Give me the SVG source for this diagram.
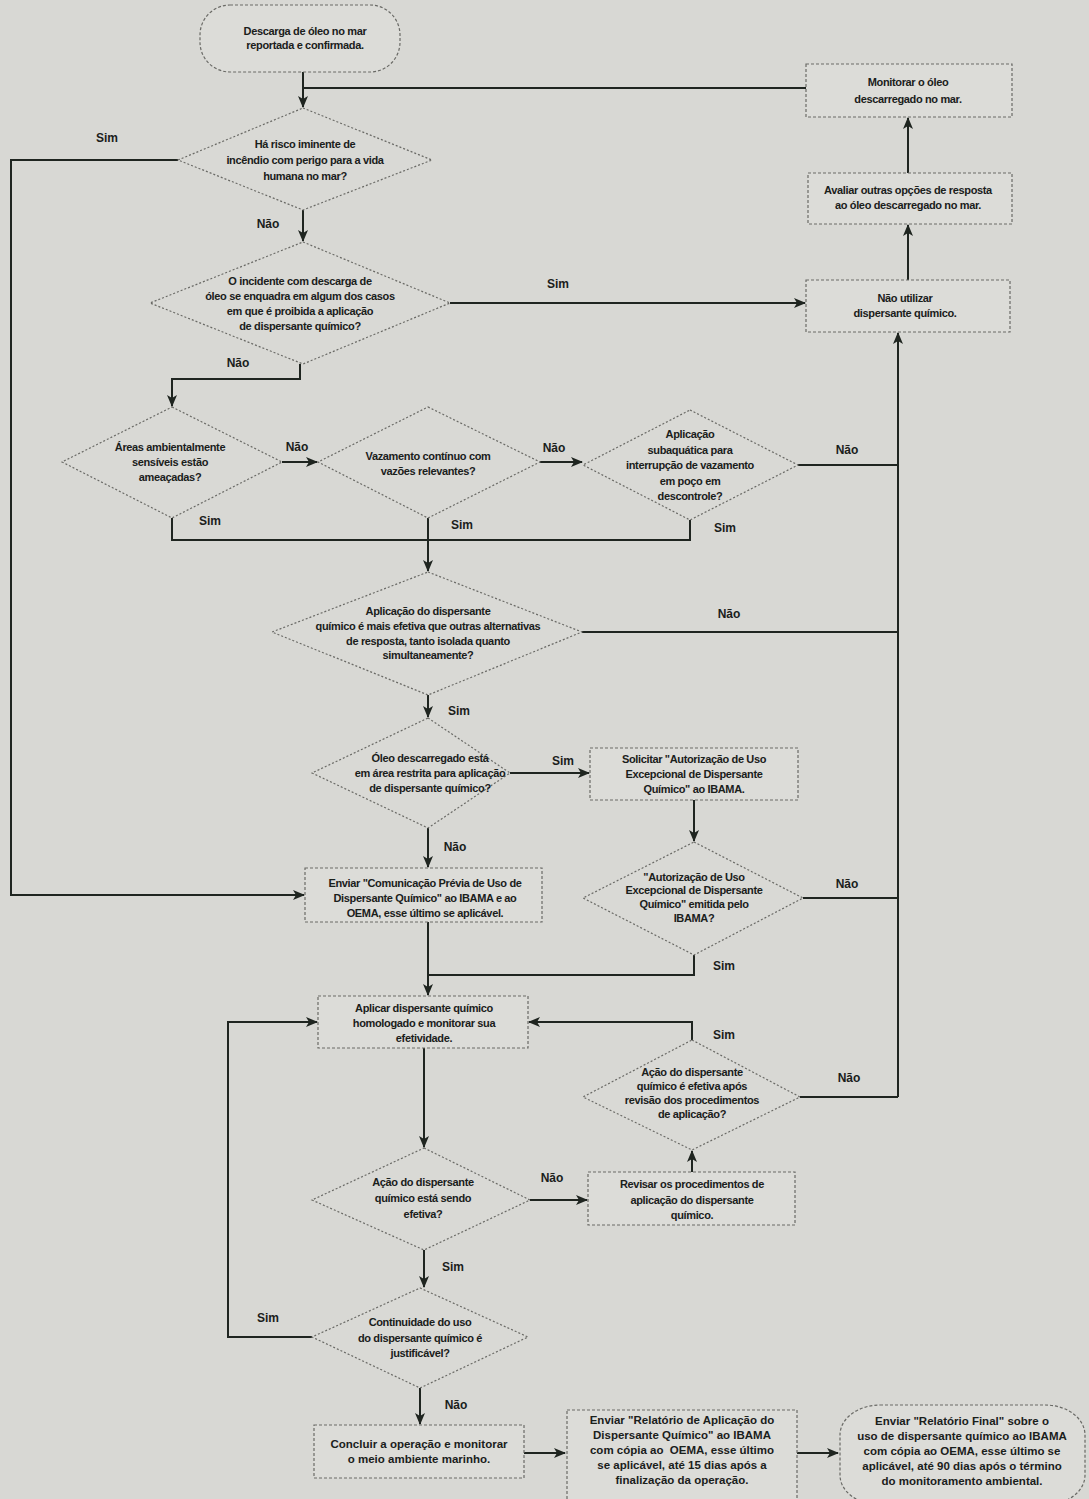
<svg xmlns="http://www.w3.org/2000/svg" width="1089" height="1499" viewBox="0 0 1089 1499">
<defs>
<style>
.bg{fill:#d8d8d4}
.box{fill:#dcdcd8;stroke:#6a6a66;stroke-width:1.2;stroke-dasharray:3 2}
.dia{fill:#d9d9d5;stroke:#6a6a66;stroke-width:1.2;stroke-dasharray:2 2}
.t{font-family:"Liberation Sans",Arial,sans-serif;font-weight:bold;font-size:11px;fill:#1a201b;text-anchor:middle;letter-spacing:-0.35px}
.tn{font-family:"Liberation Sans",Arial,sans-serif;font-weight:bold;font-size:11.5px;fill:#1a201b;text-anchor:middle}
.lb{font-family:"Liberation Sans",Arial,sans-serif;font-weight:bold;font-size:12px;fill:#1a201b;text-anchor:middle}
.c{fill:none;stroke:#1f2520;stroke-width:2}
</style>
<marker id="ah" viewBox="0 0 12 10" refX="11" refY="5" markerWidth="12" markerHeight="10" markerUnits="userSpaceOnUse" orient="auto">
<path d="M0,0 L12,5 L0,10 L3,5 Z" fill="#1f2520"/>
</marker>
</defs>
<rect class="bg" x="0" y="0" width="1089" height="1499"/>

<g id="connectors">
<path class="c" d="M303,72 V107" marker-end="url(#ah)"/>
<path class="c" d="M806,88 H303"/>
<path class="c" d="M178,160 H11 V895 H304" marker-end="url(#ah)"/>
<path class="c" d="M303,210 V241" marker-end="url(#ah)"/>
<path class="c" d="M450,303 H805" marker-end="url(#ah)"/>
<path class="c" d="M908,173 V118" marker-end="url(#ah)"/>
<path class="c" d="M908,280 V225" marker-end="url(#ah)"/>
<path class="c" d="M898,1097 V333" marker-end="url(#ah)"/>
<path class="c" d="M300,364 V379 H172 V406" marker-end="url(#ah)"/>
<path class="c" d="M282,462 H317" marker-end="url(#ah)"/>
<path class="c" d="M540,462 H582" marker-end="url(#ah)"/>
<path class="c" d="M798,465 H898"/>
<path class="c" d="M172,518 V540 H690 V520"/>
<path class="c" d="M428,518 V571" marker-end="url(#ah)"/>
<path class="c" d="M582,632 H898"/>
<path class="c" d="M428,695 V717" marker-end="url(#ah)"/>
<path class="c" d="M510,773 H589" marker-end="url(#ah)"/>
<path class="c" d="M694,800 V841" marker-end="url(#ah)"/>
<path class="c" d="M803,898 H898"/>
<path class="c" d="M428,828 V867" marker-end="url(#ah)"/>
<path class="c" d="M694,955 V975 H428"/>
<path class="c" d="M428,922 V995" marker-end="url(#ah)"/>
<path class="c" d="M692,1040 V1022 H529" marker-end="url(#ah)"/>
<path class="c" d="M800,1097 H898"/>
<path class="c" d="M424,1048 V1147" marker-end="url(#ah)"/>
<path class="c" d="M530,1200 H587" marker-end="url(#ah)"/>
<path class="c" d="M692,1172 V1151" marker-end="url(#ah)"/>
<path class="c" d="M424,1250 V1287" marker-end="url(#ah)"/>
<path class="c" d="M312,1337 H228 V1022 H317" marker-end="url(#ah)"/>
<path class="c" d="M420,1388 V1424" marker-end="url(#ah)"/>
<path class="c" d="M524,1453 H565" marker-end="url(#ah)"/>
<path class="c" d="M797,1453 H838" marker-end="url(#ah)"/>
</g>

<g id="labels">
<text class="lb" x="107" y="142">Sim</text>
<text class="lb" x="268" y="228">Não</text>
<text class="lb" x="558" y="288">Sim</text>
<text class="lb" x="238" y="367">Não</text>
<text class="lb" x="297" y="451">Não</text>
<text class="lb" x="554" y="452">Não</text>
<text class="lb" x="847" y="454">Não</text>
<text class="lb" x="210" y="525">Sim</text>
<text class="lb" x="462" y="529">Sim</text>
<text class="lb" x="725" y="532">Sim</text>
<text class="lb" x="729" y="618">Não</text>
<text class="lb" x="459" y="715">Sim</text>
<text class="lb" x="563" y="765">Sim</text>
<text class="lb" x="455" y="851">Não</text>
<text class="lb" x="847" y="888">Não</text>
<text class="lb" x="724" y="970">Sim</text>
<text class="lb" x="724" y="1039">Sim</text>
<text class="lb" x="849" y="1082">Não</text>
<text class="lb" x="552" y="1182">Não</text>
<text class="lb" x="453" y="1271">Sim</text>
<text class="lb" x="268" y="1322">Sim</text>
<text class="lb" x="456" y="1409">Não</text>
</g>

<g id="start">
<rect class="box" x="200" y="5" width="200" height="67" rx="30" ry="30"/>
<text class="t" x="305" y="35">Descarga de óleo no mar</text>
<text class="t" x="305" y="49">reportada e confirmada.</text>
</g>

<g id="monitorar">
<rect class="box" x="806" y="64" width="206" height="53"/>
<text class="t" x="908" y="86">Monitorar o óleo</text>
<text class="t" x="908" y="103">descarregado no mar.</text>
</g>

<g id="avaliar">
<rect class="box" x="808" y="173" width="204" height="51"/>
<text class="t" x="908" y="194">Avaliar outras opções de resposta</text>
<text class="t" x="908" y="209">ao óleo descarregado no mar.</text>
</g>

<g id="nao-utilizar">
<rect class="box" x="806" y="280" width="204" height="52"/>
<text class="t" x="905" y="302">Não utilizar</text>
<text class="t" x="905" y="317">dispersante químico.</text>
</g>

<g id="d-risco">
<polygon class="dia" points="303,108 432,160 303,210 178,160"/>
<text class="t" x="305" y="148">Há risco iminente de</text>
<text class="t" x="305" y="164">incêndio com perigo para a vida</text>
<text class="t" x="305" y="180">humana no mar?</text>
</g>

<g id="d-proibida">
<polygon class="dia" points="303,242 450,303 303,364 150,303"/>
<text class="t" x="300" y="285">O incidente com descarga de</text>
<text class="t" x="300" y="300">óleo se enquadra em algum dos casos</text>
<text class="t" x="300" y="315">em que é proibida a aplicação</text>
<text class="t" x="300" y="330">de dispersante químico?</text>
</g>

<g id="d-areas">
<polygon class="dia" points="172,407 282,462 172,518 62,462"/>
<text class="t" x="170" y="451">Áreas ambientalmente</text>
<text class="t" x="170" y="466">sensíveis estão</text>
<text class="t" x="170" y="481">ameaçadas?</text>
</g>

<g id="d-vazamento">
<polygon class="dia" points="428,407 540,462 428,518 318,462"/>
<text class="t" x="428" y="460">Vazamento contínuo com</text>
<text class="t" x="428" y="475">vazões relevantes?</text>
</g>

<g id="d-subaquatica">
<polygon class="dia" points="690,410 798,465 690,520 583,465"/>
<text class="t" x="690" y="438">Aplicação</text>
<text class="t" x="690" y="454">subaquática para</text>
<text class="t" x="690" y="469">interrupção de vazamento</text>
<text class="t" x="690" y="485">em poço em</text>
<text class="t" x="690" y="500">descontrole?</text>
</g>

<g id="d-efetiva">
<polygon class="dia" points="428,572 582,632 428,695 272,632"/>
<text class="t" x="428" y="615">Aplicação do dispersante</text>
<text class="t" x="428" y="630">químico é mais efetiva que outras alternativas</text>
<text class="t" x="428" y="645">de resposta, tanto isolada quanto</text>
<text class="t" x="428" y="659">simultaneamente?</text>
</g>

<g id="d-restrita">
<polygon class="dia" points="428,718 510,773 428,828 312,773"/>
<text class="t" x="430" y="762">Óleo descarregado está</text>
<text class="t" x="430" y="777">em área restrita para aplicação</text>
<text class="t" x="430" y="792">de dispersante químico?</text>
</g>

<g id="solicitar">
<rect class="box" x="590" y="748" width="208" height="52"/>
<text class="t" x="694" y="763">Solicitar "Autorização de Uso</text>
<text class="t" x="694" y="778">Excepcional de Dispersante</text>
<text class="t" x="694" y="793">Químico" ao IBAMA.</text>
</g>

<g id="d-autorizacao">
<polygon class="dia" points="694,842 803,898 694,955 583,898"/>
<text class="t" x="694" y="881">"Autorização de Uso</text>
<text class="t" x="694" y="894">Excepcional de Dispersante</text>
<text class="t" x="694" y="908">Químico" emitida pelo</text>
<text class="t" x="694" y="922">IBAMA?</text>
</g>

<g id="comunicacao">
<rect class="box" x="305" y="868" width="237" height="54"/>
<text class="t" x="425" y="887">Enviar "Comunicação Prévia de Uso de</text>
<text class="t" x="425" y="902">Dispersante Químico" ao IBAMA e ao</text>
<text class="t" x="425" y="917">OEMA, esse último se aplicável.</text>
</g>

<g id="aplicar">
<rect class="box" x="318" y="996" width="210" height="52"/>
<text class="t" x="424" y="1012">Aplicar dispersante químico</text>
<text class="t" x="424" y="1027">homologado e monitorar sua</text>
<text class="t" x="424" y="1042">efetividade.</text>
</g>

<g id="d-apos-revisao">
<polygon class="dia" points="692,1040 800,1097 692,1150 583,1097"/>
<text class="t" x="692" y="1076">Ação do dispersante</text>
<text class="t" x="692" y="1090">químico é efetiva após</text>
<text class="t" x="692" y="1104">revisão dos procedimentos</text>
<text class="t" x="692" y="1118">de aplicação?</text>
</g>

<g id="d-sendo-efetiva">
<polygon class="dia" points="424,1148 530,1200 424,1250 312,1200"/>
<text class="t" x="423" y="1186">Ação do dispersante</text>
<text class="t" x="423" y="1202">químico está sendo</text>
<text class="t" x="423" y="1218">efetiva?</text>
</g>

<g id="revisar">
<rect class="box" x="588" y="1172" width="207" height="53"/>
<text class="t" x="692" y="1188">Revisar os procedimentos de</text>
<text class="t" x="692" y="1204">aplicação do dispersante</text>
<text class="t" x="692" y="1219">químico.</text>
</g>

<g id="d-continuidade">
<polygon class="dia" points="420,1288 528,1337 420,1388 312,1337"/>
<text class="t" x="420" y="1326">Continuidade do uso</text>
<text class="t" x="420" y="1342">do dispersante químico é</text>
<text class="t" x="420" y="1357">justificável?</text>
</g>

<g id="concluir">
<rect class="box" x="314" y="1425" width="210" height="53"/>
<text class="tn" x="419" y="1448">Concluir a operação e monitorar</text>
<text class="tn" x="419" y="1463">o meio ambiente marinho.</text>
</g>

<g id="relatorio-aplicacao">
<rect class="box" x="567" y="1410" width="230" height="92"/>
<text class="tn" x="682" y="1424">Enviar "Relatório de Aplicação do</text>
<text class="tn" x="682" y="1439">Dispersante Químico" ao IBAMA</text>
<text class="tn" x="682" y="1454">com cópia ao&#160; OEMA, esse último</text>
<text class="tn" x="682" y="1469">se aplicável, até 15 dias após a</text>
<text class="tn" x="682" y="1484">finalização da operação.</text>
</g>

<g id="relatorio-final">
<rect class="box" x="840" y="1405" width="245" height="100" rx="40" ry="30"/>
<text class="tn" x="962" y="1425">Enviar "Relatório Final" sobre o</text>
<text class="tn" x="962" y="1440">uso de dispersante químico ao IBAMA</text>
<text class="tn" x="962" y="1455">com cópia ao OEMA, esse último se</text>
<text class="tn" x="962" y="1470">aplicável, até 90 dias após o término</text>
<text class="tn" x="962" y="1485">do monitoramento ambiental.</text>
</g>
</svg>
